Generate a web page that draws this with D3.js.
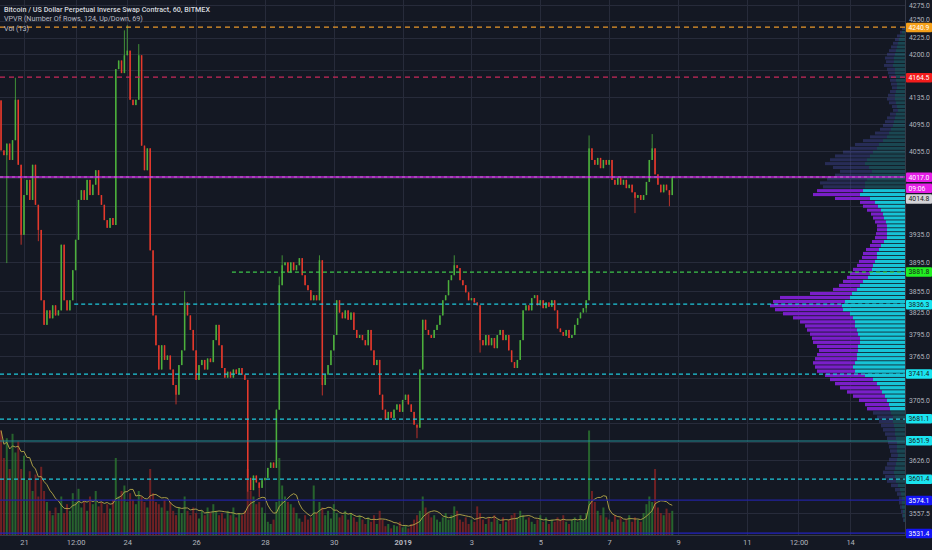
<!DOCTYPE html>
<html>
<head>
<meta charset="utf-8">
<script src="https://cdn.jsdelivr.net/npm/d3@7"></script>
<style>
html, body { margin: 0; padding: 0; background: #151924; }
svg { display: block; font-family: Roboto, "Liberation Sans", sans-serif; }
</style>
</head>
<body>
<svg id="chart" width="932" height="550"></svg>
<script>
// --- data (2h candles, XBTUSD) ---

const firstOpen = 4130;
const closes = [
    4056, 4049, 4066, 4042, 4071, 4131, 4035, 3934, 3991, 4013,
    3984, 4035, 3977, 3941, 3842, 3808, 3828, 3817, 3835, 3821,
    3828, 3920, 3842, 3828, 3842, 3884, 3927, 3984, 3998, 3984,
    4013, 3991, 4006, 4027, 3991, 3977, 3955, 3944, 3958, 3948,
    4177, 4190, 4171, 4198, 4205, 4131, 4123, 4131, 4198, 4063,
    4027, 4059, 3912, 3821, 3780, 3747, 3780, 3760, 3766, 3747,
    3726, 3713, 3753, 3773, 3839, 3821, 3801, 3773, 3733, 3753,
    3760, 3747, 3762, 3757, 3787, 3808, 3780, 3749, 3736, 3744,
    3736, 3747, 3741, 3749, 3740, 3733, 3603, 3587, 3606, 3597,
    3590, 3600, 3603, 3616, 3623, 3616, 3693, 3863, 3891, 3895,
    3881, 3895, 3884, 3891, 3901, 3877, 3863, 3856, 3842, 3849,
    3842, 3898, 3726, 3740, 3753, 3773, 3794, 3842, 3825, 3817,
    3828, 3815, 3825, 3801, 3790, 3794, 3787, 3780, 3801, 3773,
    3753, 3760, 3713, 3693, 3680, 3690, 3682, 3693, 3700, 3690,
    3706, 3713, 3700, 3690, 3673, 3669, 3747, 3815, 3801, 3794,
    3790, 3801, 3808, 3821, 3842, 3849, 3870, 3877, 3891, 3887,
    3870, 3863, 3853, 3842, 3845, 3839, 3835, 3787, 3780, 3794,
    3780, 3790, 3776, 3794, 3801, 3787, 3794, 3773, 3757, 3749,
    3760, 3787, 3828, 3835, 3828, 3845, 3849, 3835, 3842, 3831,
    3839, 3833, 3842, 3828, 3803, 3798, 3793, 3801, 3790, 3794,
    3808, 3817, 3825, 3831, 3842, 4059, 4042, 4035, 4045, 4030,
    4042, 4035, 4042, 4013, 4006, 4016, 4006, 4013, 4001, 4006,
    3995, 3987, 3991, 3984, 3991, 4010, 4042, 4059, 4021, 4006,
    3995, 4006, 3998, 3991, 4017
];

// [candle index, high, low] where the wick sticks out of the body
const wicks = [
    [2, null, 3894], [5, 4164, null], [7, null, 3920], [13, null, 3925],
    [43, 4236, null], [44, 4244, null], [48, 4215, null], [61, null, 3700],
    [64, 3855, null], [86, null, 3585], [90, null, 3578], [97, 3875, null],
    [98, 3905, null], [111, 3905, null], [112, null, 3712], [145, null, 3655],
    [158, 3905, null], [167, null, 3770], [204, null, 3825], [205, 4078, null],
    [221, null, 3965], [227, 4080, null], [233, null, 3975]
];

const volumes = [
    95, 70, 88, 60, 92, 75, 85, 60, 72, 50,
    58, 40, 55, 35, 62, 40, 30, 22, 18, 25,
    20, 35, 20, 28, 22, 38, 30, 42, 25, 30,
    22, 35, 28, 40, 26, 30, 20, 28, 24, 32,
    70, 35, 40, 45, 30, 38, 32, 28, 40, 35,
    30, 25, 60, 38, 30, 28, 25, 32, 22, 30,
    22, 18, 25, 20, 35, 22, 18, 25, 20, 15,
    22, 18, 25, 20, 28, 22, 18, 20, 15, 22,
    18, 25, 16, 20, 18, 22, 60, 40, 35, 28,
    30, 25, 20, 12, 10, 14, 30, 70, 45, 35,
    30, 28, 25, 20, 15, 12, 18, 14, 16, 45,
    20, 30, 25, 18, 22, 15, 28, 20, 16, 18,
    22, 14, 20, 16, 12, 18, 14, 10, 16, 12,
    18, 10, 22, 14, 8, 10, 6, 9, 8, 12,
    7, 9, 6, 10, 14, 18, 22, 35, 25, 20,
    16, 18, 14, 12, 16, 20, 14, 18, 26, 22,
    14, 12, 16, 10, 14, 12, 26, 20, 14, 10,
    16, 12, 18, 14, 10, 16, 12, 14, 18, 20,
    16, 22, 18, 14, 16, 12, 10, 14, 18, 12,
    16, 10, 14, 12, 16, 14, 18, 12, 10, 14,
    16, 12, 18, 14, 20, 95, 40, 30, 22, 18,
    25, 16, 14, 12, 18, 14, 16, 12, 14, 18,
    12, 16, 14, 12, 20, 28, 35, 30, 60, 25,
    20, 18, 24, 20, 22
];

// VPVR, 124 rows from the top of the range down
const profileRange = [3545, 4240.9];
const valueArea = [43, 97];
const profileUp = [
    1, 3, 5, 6, 7, 8, 9, 10, 11, 11,
    12, 10, 10, 9, 9, 8, 8, 9, 10, 10,
    9, 8, 7, 9, 10, 11, 12, 14, 16, 18,
    22, 26, 28, 32, 35, 38, 40, 36, 33, 35,
    38, 40, 40, 42, 45, 35, 30, 27, 24, 22,
    21, 19, 18, 18, 18, 18, 21, 24, 26, 28,
    28, 30, 32, 33, 35, 37, 42, 45, 48, 53,
    55, 60, 63, 62, 55, 52, 50, 50, 48, 47,
    45, 45, 47, 47, 48, 48, 50, 52, 50, 40,
    32, 28, 25, 23, 20, 18, 16, 15, 14, 12,
    12, 11, 10, 10, 9, 8, 8, 8, 7, 8,
    9, 10, 11, 10, 9, 7, 5, 4, 3, 3,
    3, 2, 2, 1
];
const profileDown = [
    2, 2, 3, 4, 5, 6, 7, 8, 9, 8,
    9, 8, 7, 7, 6, 6, 5, 6, 7, 8,
    7, 5, 5, 6, 8, 9, 10, 11, 14, 17,
    20, 24, 27, 30, 35, 37, 40, 36, 32, 35,
    40, 45, 42, 46, 47, 35, 15, 15, 14, 12,
    11, 11, 10, 10, 11, 12, 12, 11, 13, 14,
    15, 16, 16, 19, 20, 21, 20, 21, 24, 42,
    70, 72, 72, 68, 67, 60, 55, 50, 50, 48,
    48, 47, 41, 39, 40, 42, 42, 38, 38, 40,
    43, 42, 40, 35, 32, 28, 24, 23, 18, 16,
    14, 13, 12, 10, 9, 9, 8, 7, 7, 8,
    9, 10, 11, 10, 9, 7, 5, 4, 3, 3,
    2, 2, 1, 1
];

const priceTicks = [4275, 4250, 4225, 4200, 4175, 4135, 4095, 4055, 4015, 3975,
    3935, 3895, 3855, 3825, 3795, 3765, 3735, 3705, 3675, 3650, 3626, 3557.5];

const timeTicks = [
    new Date(2018, 11, 21), new Date(2018, 11, 22, 12), new Date(2018, 11, 24),
    new Date(2018, 11, 26), new Date(2018, 11, 28), new Date(2018, 11, 30),
    new Date(2019, 0, 1), new Date(2019, 0, 3), new Date(2019, 0, 5),
    new Date(2019, 0, 7), new Date(2019, 0, 9), new Date(2019, 0, 11),
    new Date(2019, 0, 12, 12), new Date(2019, 0, 14)
];
const timeLabels = ["21", "12:00", "24", "26", "28", "30", "2019", "3", "5", "7", "9", "11", "12:00", "14"];

// horizontal levels drawn on the chart; start = null means full width
const levelPrices = [4240.9, 4164.5, 4017.0, 3881.8, 3836.3, 3741.4, 3681.1, 3651.9, 3601.4, 3574.1, 3531.4];
const levelStarts = [null, null, null, new Date(2018, 11, 27, 1), new Date(2018, 11, 22, 11),
    null, null, null, null, null, null];
const lastPrice = 4017.0;
const countdown = "09:06";
const extraPrice = 4014.8;

const titleLines = [
    "Bitcoin / US Dollar Perpetual Inverse Swap Contract, 60, BITMEX",
    "VPVR (Number Of Rows, 124, Up/Down, 69)",
    "Vol (13)"
];

// --- layout ---
const W = 932, H = 550, plotR = 905, plotB = 535;
const svg = d3.select("#chart");

svg.append("rect").attr("width", W).attr("height", H).attr("fill", "#141823");

const x = d3.scaleTime().domain([new Date(2018, 11, 21), new Date(2019, 0, 9)]).range([24, 678]);
const y = d3.scaleLog().domain([3557.5, 4275]).range([513, 5]);
const vy = d3.scaleLinear().domain([0, 100]).range([plotB, plotB - 110]);
const vpx = d3.scaleLinear().domain([0, 140]).range([0, 140]);

const t0 = new Date(2018, 11, 20, 8);
const candles = closes.map((c, i) => {
    const o = i ? closes[i - 1] : firstOpen;
    return { t: d3.timeHour.offset(t0, 2 * i), o, c, h: Math.max(o, c), l: Math.min(o, c), v: volumes[i] };
});
wicks.forEach(([i, h, l]) => {
    if (h != null) candles[i].h = Math.max(candles[i].h, h);
    if (l != null) candles[i].l = Math.min(candles[i].l, l);
});

svg.append("defs").append("clipPath").attr("id", "plot")
    .append("rect").attr("x", 0).attr("y", 0).attr("width", plotR).attr("height", plotB);

const plot = svg.append("g").attr("clip-path", "url(#plot)");

// grid
plot.append("g").selectAll("line").data(priceTicks).join("line")
    .attr("x1", 0).attr("x2", plotR)
    .attr("y1", d => Math.round(y(d)) + 0.5).attr("y2", d => Math.round(y(d)) + 0.5)
    .attr("stroke", "#272b3a").attr("stroke-width", 1);
plot.append("g").selectAll("line").data(timeTicks).join("line")
    .attr("x1", d => Math.round(x(d)) + 0.5).attr("x2", d => Math.round(x(d)) + 0.5)
    .attr("y1", 0).attr("y2", plotB)
    .attr("stroke", "#272b3a").attr("stroke-width", 1);

// volume bars
plot.append("g").selectAll("rect").data(candles).join("rect")
    .attr("x", d => x(d.t) - 1)
    .attr("width", 2)
    .attr("y", d => vy(d.v))
    .attr("height", d => plotB - vy(d.v))
    .attr("fill", d => d.c >= d.o ? "#2e7d32" : "#8e2424")
    .attr("opacity", 0.75);

// volume MA (13 hourly bars ~ 7 two-hour bars)
const ma = candles.map((d, i) => ({ t: d.t, v: d3.mean(volumes.slice(Math.max(0, i - 6), i + 1)) }));
plot.append("path").datum(ma)
    .attr("fill", "none").attr("stroke", "#b8a94a").attr("stroke-width", 0.9)
    .attr("d", d3.line().x(d => x(d.t)).y(d => vy(d.v)));

// volume profile (visible range)
const step = (profileRange[1] - profileRange[0]) / profileUp.length;
const rows = profileUp.map((u, k) => ({
    k, up: u, down: profileDown[k],
    top: profileRange[1] - k * step, bot: profileRange[1] - (k + 1) * step,
    inVA: k >= valueArea[0] && k <= valueArea[1]
}));
const vp = plot.append("g");
vp.selectAll("rect.up").data(rows).join("rect").attr("class", "up")
    .attr("x", d => plotR - vpx(d.up))
    .attr("width", d => vpx(d.up))
    .attr("y", d => y(d.top))
    .attr("height", d => Math.max(0.5, y(d.bot) - y(d.top) - 0.8))
    .attr("fill", d => d.inVA ? "#17c3d6" : "rgba(38,150,160,0.38)");
vp.selectAll("rect.down").data(rows).join("rect").attr("class", "down")
    .attr("x", d => plotR - vpx(d.up) - vpx(d.down))
    .attr("width", d => vpx(d.down))
    .attr("y", d => y(d.top))
    .attr("height", d => Math.max(0.5, y(d.bot) - y(d.top) - 0.8))
    .attr("fill", d => d.inVA ? "#7a1fc9" : "rgba(70,80,170,0.38)");

// candles
const cg = plot.append("g");
cg.selectAll("line").data(candles).join("line")
    .attr("x1", d => x(d.t)).attr("x2", d => x(d.t))
    .attr("y1", d => y(d.h)).attr("y2", d => y(d.l))
    .attr("stroke", d => d.c >= d.o ? "#4caf3c" : "#e5392c").attr("stroke-width", 0.8);
cg.selectAll("rect").data(candles).join("rect")
    .attr("x", d => x(d.t) - 0.75).attr("width", 1.5)
    .attr("y", d => y(Math.max(d.o, d.c)))
    .attr("height", d => Math.max(1, Math.abs(y(d.o) - y(d.c))))
    .attr("fill", d => d.c >= d.o ? "#4caf3c" : "#e5392c");

// levels
const levelStyle = [
    { stroke: "#e8962a", dash: "5,4", w: 1.25, bg: "#f5a01a", fg: "#ffffff" },
    { stroke: "#c8285a", dash: "5,4", w: 1.25, bg: "#f31c1c", fg: "#ffffff" },
    { stroke: "#c21fd8", dash: null, w: 1.5, bg: "#e61ee6", fg: "#ffffff" },
    { stroke: "#3cc44a", dash: "4,3", w: 1.25, bg: "#22f022", fg: "#1a1a1a" },
    { stroke: "#1fc8dc", dash: "4,3", w: 1.25, bg: "#1ae4f0", fg: "#1a1a1a" },
    { stroke: "#1fc8dc", dash: "4,3", w: 1.25, bg: "#1ae4f0", fg: "#1a1a1a" },
    { stroke: "#1fc8dc", dash: "4,3", w: 1.25, bg: "#1ae4f0", fg: "#1a1a1a" },
    { stroke: "#248f98", dash: null, w: 1.2, bg: "#1ae4f0", fg: "#1a1a1a" },
    { stroke: "#1fc8dc", dash: "4,3", w: 1.25, bg: "#1ae4f0", fg: "#1a1a1a" },
    { stroke: "#2222a0", dash: null, w: 1.25, bg: "#1414f5", fg: "#ffffff" },
    { stroke: "#2222c0", dash: null, w: 1.25, bg: "#1414f5", fg: "#ffffff" }
];
const lv = plot.append("g");
levelPrices.forEach((p, i) => {
    const st = levelStyle[i];
    const yy = Math.round(y(p));
    lv.append("line")
        .attr("x1", levelStarts[i] ? x(levelStarts[i]) : 0).attr("x2", plotR)
        .attr("y1", yy).attr("y2", yy)
        .attr("stroke", st.stroke).attr("stroke-width", st.w)
        .attr("stroke-dasharray", st.dash);
});
// last price line: light dashes over the magenta line
lv.append("line")
    .attr("x1", 0).attr("x2", plotR)
    .attr("y1", Math.round(y(lastPrice))).attr("y2", Math.round(y(lastPrice)))
    .attr("stroke", "#e6e0ee").attr("stroke-width", 0.8).attr("stroke-dasharray", "3,3").attr("opacity", 0.55);

// axes frame
svg.append("line").attr("x1", plotR + 0.5).attr("x2", plotR + 0.5).attr("y1", 0).attr("y2", plotB)
    .attr("stroke", "#363a48");
svg.append("line").attr("x1", 0).attr("x2", W).attr("y1", plotB + 0.5).attr("y2", plotB + 0.5)
    .attr("stroke", "#363a48");

// tick labels that sit under a level label are hidden, as on the reference
const labelYs = levelPrices.map(p => y(p)).concat([y(lastPrice) + 11, y(extraPrice) + 20]);
const shownTicks = priceTicks.filter(t => t === 4250 || labelYs.every(ly => Math.abs(y(t) - ly) > 8));

const yAxis = svg.append("g").attr("transform", `translate(${plotR},0)`)
    .call(d3.axisRight(y).tickValues(shownTicks).tickFormat(d3.format(".1f")).tickSize(0).tickPadding(4));
yAxis.select(".domain").remove();
yAxis.selectAll("text").attr("fill", "#b2b5be").attr("font-size", "6.8px").attr("font-family", "Roboto, sans-serif");
yAxis.selectAll(".tick").filter(d => d === 4250).select("text").attr("dy", "0.05em");

const xAxis = svg.append("g").attr("transform", `translate(0,${plotB})`)
    .call(d3.axisBottom(x).tickValues(timeTicks).tickFormat((d, i) => timeLabels[i]).tickSize(0).tickPadding(5));
xAxis.select(".domain").remove();
xAxis.selectAll("text").attr("fill", "#b2b5be").attr("font-size", "7.5px").attr("font-family", "Roboto, sans-serif")
    .attr("font-weight", (d, i) => timeLabels[i] === "2019" ? "bold" : null);

// price labels on the axis
function axisLabel(yc, text, bg, fg) {
    const g = svg.append("g");
    g.append("rect").attr("x", plotR + 1).attr("y", yc - 4.5).attr("width", W - plotR - 1).attr("height", 9.5)
        .attr("fill", bg).attr("rx", 1);
    g.append("text").attr("x", plotR + 3.5).attr("y", yc + 2.4).attr("fill", fg)
        .attr("font-size", "6.8px").text(text);
}
levelPrices.forEach((p, i) => {
    const st = levelStyle[i];
    axisLabel(y(p), d3.format(".1f")(p), st.bg, st.fg);
});
axisLabel(y(lastPrice) + 11, countdown, levelStyle[2].bg, "#ffffff");
axisLabel(y(extraPrice) + 20, d3.format(".1f")(extraPrice), "#d4d4d8", "#1a1a1a");

// legend text
svg.append("g").selectAll("text").data(titleLines).join("text")
    .attr("x", 4).attr("y", (d, i) => 11.5 + i * 9.5)
    .attr("fill", (d, i) => i === 0 ? "#d6d8de" : "#b8bbc4")
    .attr("font-size", "7.2px")
    .attr("font-weight", (d, i) => i === 0 ? 500 : null)
    .text(d => d);
</script>
</body>
</html>
